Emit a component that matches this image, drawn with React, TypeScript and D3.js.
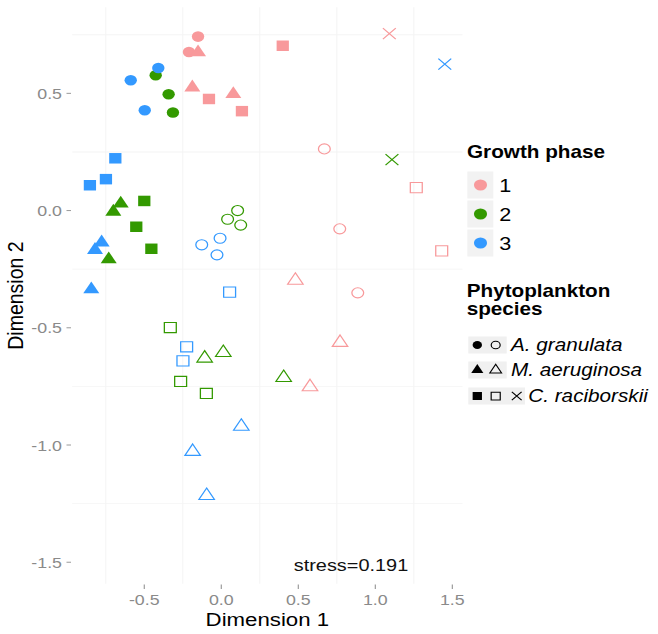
import React from "react";
import * as d3 from "d3";

const W = 658;
const H = 634;
const SX = 1.17; // horizontal stretch of the reference image

const phaseLevels = ["1", "2", "3"];
const phaseColors = ["#F8999B", "#339900", "#3399FF"];
const speciesLevels = ["A. granulata", "M. aeruginosa", "C. raciborskii"];
const xTicks = [-0.5, 0, 0.5, 1, 1.5];
const yTicks = [-1.5, -1, -0.5, 0, 0.5];
const xGrid = [-0.75, -0.25, 0.25, 0.75, 1.25];
const yGrid = [-1.25, -0.75, -0.25, 0.25, 0.75];

// sample points: phase index, species index, style
const dim1 = [
  // phase 1
  -0.151, -0.21, -0.151, -0.188, 0.399, -0.08, 0.078, 0.134, 1.091, 0.669, 1.266, 0.769, 1.431, 0.481, 0.886, 0.771, 0.576,
  // phase 2
  -0.426, -0.342, -0.314, 1.108, -0.653, -0.701, -0.731, -0.5, -0.552, -0.454, 0.106, 0.041, 0.126, -0.331, -0.264, -0.097, -0.108, 0.013, 0.405,
  // phase 3
  -0.409, -0.588, -0.497, 1.451, -0.688, -0.749, -0.853, -0.777, -0.82, -0.844, -0.008, -0.127, -0.028, 0.054, -0.225, -0.249, 0.13, -0.186, -0.095,
];
const dim2 = [
  0.742, 0.676, 0.675, 0.525, 0.703, 0.476, 0.497, 0.424, 0.755, 0.263, 0.098, -0.078, -0.172, -0.298, -0.351, -0.563, -0.752,
  0.577, 0.496, 0.418, 0.217, 0.03, -0.005, -0.208, 0.041, -0.069, -0.163, 0.0, -0.037, -0.062, -0.499, -0.729, -0.78, -0.63, -0.606, -0.713,
  0.608, 0.556, 0.428, 0.625, 0.223, 0.134, 0.108, -0.136, -0.168, -0.336, -0.118, -0.146, -0.189, -0.348, -0.581, -0.641, -0.921, -1.028, -1.216,
];
const phase = [
  0, 0, 0, 0, 0, 0, 0, 0, 0, 0, 0, 0, 0, 0, 0, 0, 0,
  1, 1, 1, 1, 1, 1, 1, 1, 1, 1, 1, 1, 1, 1, 1, 1, 1, 1, 1,
  2, 2, 2, 2, 2, 2, 2, 2, 2, 2, 2, 2, 2, 2, 2, 2, 2, 2, 2,
];
const species = [
  0, 0, 1, 1, 2, 2, 1, 2, 2, 0, 2, 0, 2, 1, 0, 1, 1,
  0, 0, 0, 2, 1, 1, 1, 2, 2, 2, 0, 0, 0, 2, 2, 2, 1, 1, 1,
  0, 0, 0, 2, 2, 2, 2, 1, 1, 1, 0, 0, 0, 2, 2, 2, 1, 1, 1,
];
// 0 = filled, 1 = open, 2 = cross
const style = [
  0, 0, 0, 0, 0, 0, 0, 0, 2, 1, 1, 1, 1, 1, 1, 1, 1,
  0, 0, 0, 2, 0, 0, 0, 0, 0, 0, 1, 1, 1, 1, 1, 1, 1, 1, 1,
  0, 0, 0, 2, 0, 0, 0, 0, 0, 0, 1, 1, 1, 1, 1, 1, 1, 1, 1,
];

const FONT = "'Liberation Sans', Arial, Helvetica, sans-serif";

function markerPath(sp: number, st: number, scale = 1): string {
  if (st === 2) {
    const h = 5.5 * scale;
    return `M${-h},${-h}L${h},${h}M${-h},${h}L${h},${-h}`;
  }
  const open = st === 1;
  const types = [d3.symbolCircle, d3.symbolTriangle, d3.symbolSquare];
  const sizes = open ? [80, 76, 104] : [88, 81, 110];
  return d3.symbol().type(types[sp]).size(sizes[sp] * scale * scale)() as string;
}

const fmt = (v: number) => d3.format(".1f")(v).replace("\u2212", "-");

export default function App() {
  const x = d3.scaleLinear().domain([-0.968, 1.566]).range([72.2 / SX, 462.5 / SX]);
  const y = d3.scaleLinear().domain([-1.592, 0.867]).range([583.8, 7.3]);
  const [x0, x1] = x.range();
  const [yb, yt] = y.range();

  const pts = dim1.map((d, i) => ({ d1: d, d2: dim2[i], p: phase[i], s: species[i], st: style[i] }));

  const lx = (v: number) => v / SX;

  const speciesRows = [
    { cy: 345, styles: [0, 1], labelX: 511 },
    { cy: 370, styles: [0, 1], labelX: 511 },
    { cy: 396, styles: [0, 1, 2], labelX: 528.3 },
  ];
  const glyphX = [477.3, 495.7, 516.7];

  return (
    <svg width={W} height={H} style={{ position: "absolute", left: 0, top: 0, background: "#fff" }}>
      <g transform={`scale(${SX},1)`} fontFamily={FONT}>
        {/* grid */}
        {xGrid.map((v) => (
          <line key={"gx" + v} x1={x(v)} x2={x(v)} y1={yt} y2={yb} stroke="#f4f4f4" strokeWidth={0.9} />
        ))}
        {yGrid.map((v) => (
          <line key={"gy" + v} x1={x0} x2={x1} y1={y(v)} y2={y(v)} stroke="#f4f4f4" strokeWidth={0.9} />
        ))}
        {/* y axis */}
        {yTicks.map((v) => (
          <g key={"yt" + v}>
            <line x1={lx(66.5)} x2={lx(71)} y1={y(v)} y2={y(v)} stroke="#999" strokeWidth={1} />
            <text x={lx(62)} y={y(v) + 5.5} textAnchor="end" fontSize={15.2} fill="#8a8a8a">
              {fmt(v)}
            </text>
          </g>
        ))}
        {/* x axis */}
        {xTicks.map((v) => (
          <g key={"xt" + v}>
            <line x1={x(v)} x2={x(v)} y1={584.5} y2={589} stroke="#999" strokeWidth={1} />
            <text x={x(v)} y={605.5} textAnchor="middle" fontSize={15.2} fill="#8a8a8a">
              {fmt(v)}
            </text>
          </g>
        ))}
        <text x={(x0 + x1) / 2} y={626.5} textAnchor="middle" fontSize={19} fill="#000">
          Dimension 1
        </text>
        <text
          transform={`translate(${lx(22.5)},${(yt + yb) / 2}) rotate(-90)`}
          textAnchor="middle"
          fontSize={19.5}
          fill="#000"
        >
          Dimension 2
        </text>
        {/* points */}
        {pts.map((p, i) => {
          const col = phaseColors[p.p];
          const filled = p.st === 0;
          return (
            <path
              key={"pt" + i}
              transform={`translate(${x(p.d1)},${y(p.d2)})`}
              d={markerPath(p.s, p.st)}
              fill={filled ? col : "none"}
              stroke={filled ? "none" : col}
              strokeWidth={filled ? 0 : 1.1}
            />
          );
        })}
        <text x={lx(351)} y={571.5} textAnchor="middle" fontSize={17} fill="#111">
          stress=0.191
        </text>

        {/* legend: growth phase */}
        <text x={lx(467)} y={157.7} fontSize={17.7} fontWeight="bold" fill="#000">
          Growth phase
        </text>
        {phaseLevels.map((lab, i) => {
          const cy = 185 + i * 29;
          return (
            <g key={"lg" + lab}>
              <rect x={lx(467.3)} y={cy - 13.5} width={lx(26)} height={27} fill="#f2f2f2" />
              <circle cx={lx(480.5)} cy={cy} r={5.6} fill={phaseColors[i]} />
              <text x={lx(499.3)} y={cy + 7} fontSize={18.5} fill="#000">
                {lab}
              </text>
            </g>
          );
        })}

        {/* legend: species */}
        <text x={lx(466.7)} y={296.7} fontSize={17.7} fontWeight="bold" fill="#000">
          Phytoplankton
        </text>
        <text x={lx(466.7)} y={315.5} fontSize={17.7} fontWeight="bold" fill="#000">
          species
        </text>
        {speciesLevels.map((lab, i) => {
          const row = speciesRows[i];
          const n = row.styles.length;
          const bgRight = n === 2 ? 506.7 : 525;
          return (
            <g key={"ls" + lab}>
              <rect x={lx(468.3)} y={row.cy - 8.5} width={lx(bgRight - 468.3)} height={17} fill="#f0f0f0" />
              {row.styles.map((st, j) => (
                <path
                  key={j}
                  transform={`translate(${lx(glyphX[j])},${row.cy})`}
                  d={markerPath(i, st, 0.76)}
                  fill={st === 0 ? "#000" : "none"}
                  stroke={st === 0 ? "none" : "#000"}
                  strokeWidth={st === 0 ? 0 : 1}
                />
              ))}
              <text x={lx(row.labelX)} y={row.cy + 6.3} fontSize={17.7} fontStyle="italic" fill="#000">
                {lab}
              </text>
            </g>
          );
        })}
      </g>
    </svg>
  );
}
